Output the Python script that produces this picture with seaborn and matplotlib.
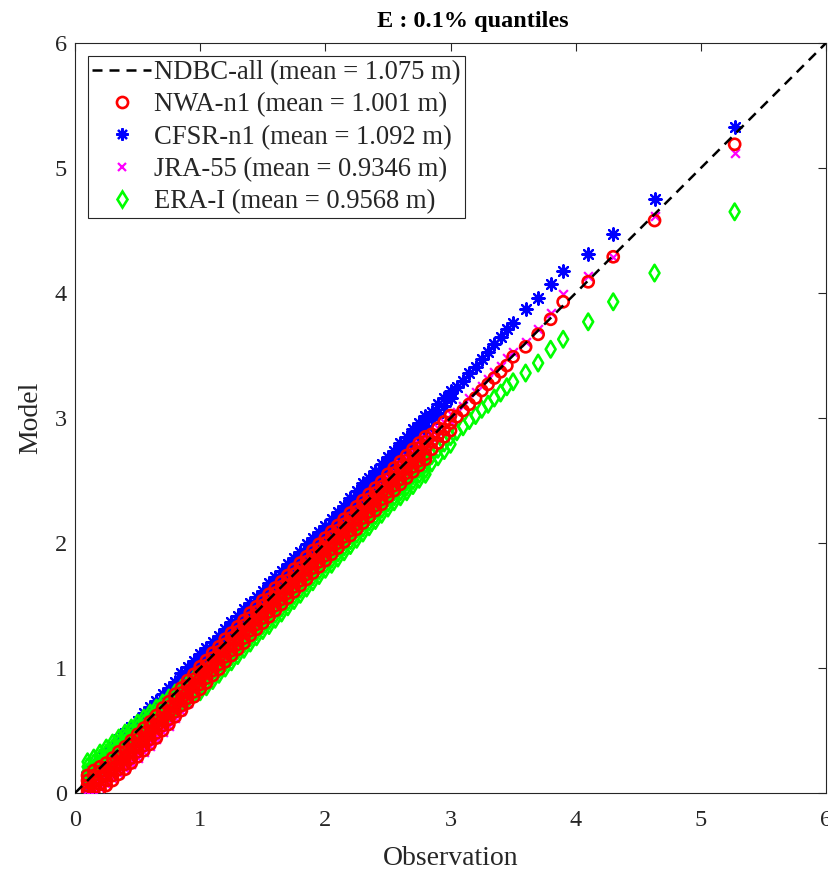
import numpy as np
import pandas as pd
import seaborn as sns
import matplotlib
matplotlib.use("Agg")
import matplotlib.pyplot as plt
from matplotlib.lines import Line2D

# ---------------- data ----------------
# observed quantile values; buoy data are reported on a coarse grid, so
# several 0.1% quantiles share one observed value (vertical runs of marks)
obs_levels = [0.10, 0.15, 0.20, 0.25, 0.30, 0.35, 0.40, 0.45, 0.50, 0.55,
              0.60, 0.65, 0.70, 0.75, 0.80, 0.85, 0.90, 0.95, 1.00, 1.05,
              1.10, 1.15, 1.20, 1.25, 1.30, 1.35, 1.40, 1.45, 1.50, 1.55,
              1.60, 1.65, 1.70, 1.75, 1.80, 1.85, 1.90, 1.95, 2.00, 2.05,
              2.10, 2.15, 2.20, 2.25, 2.30, 2.35, 2.40, 2.45, 2.50, 2.55,
              2.60, 2.65, 2.70, 2.75, 2.80,
              2.85, 2.90, 2.95, 3.00,
              3.05, 3.10, 3.15, 3.20, 3.25, 3.30, 3.35, 3.40, 3.45,
              3.50, 3.60, 3.70, 3.80, 3.90, 4.10, 4.30, 4.63, 5.27]
# number of plotted model quantiles per observed level
counts_nwa = [5, 5, 5, 5, 5, 5, 5, 5, 5, 5,
              5, 5, 5, 5, 5, 5, 5, 5, 5, 5,
              5, 5, 5, 5, 5, 5, 5, 5, 5, 5,
              5, 5, 5, 5, 5, 5, 5, 5, 5, 5,
              5, 5, 5, 5, 5, 5, 5, 5, 5, 5,
              5, 5, 5, 5, 5,
              3, 3, 3, 3,
              1, 1, 1, 1, 1, 1, 1, 1, 1,
              1, 1, 1, 1, 1, 1, 1, 1, 1]
counts_other = [4, 4, 4, 4, 4, 4, 4, 4, 4, 4,
                4, 4, 4, 4, 4, 4, 4, 4, 4, 4,
                4, 4, 4, 4, 4, 4, 4, 4, 4, 4,
                4, 4, 4, 4, 4, 4, 4, 4, 4, 4,
                4, 4, 4, 4, 4, 4, 4, 4, 4, 4,
                4, 4, 4, 4, 4,
                2, 2, 2, 2,
                1, 1, 1, 1, 1, 1, 1, 1, 1,
                1, 1, 1, 1, 1, 1, 1, 1, 1]

nwa = [0.00, 0.03, 0.06, 0.10, 0.14, 0.00, 0.04, 0.09, 0.14, 0.18, 0.03, 0.07, 0.12, 0.17, 0.21,
       0.06, 0.10, 0.15, 0.20, 0.24, 0.10, 0.14, 0.19, 0.24, 0.28, 0.15, 0.19, 0.24, 0.29, 0.33,
       0.19, 0.23, 0.28, 0.33, 0.37, 0.24, 0.28, 0.33, 0.38, 0.42, 0.29, 0.33, 0.38, 0.43, 0.47,
       0.34, 0.38, 0.43, 0.48, 0.52, 0.39, 0.43, 0.48, 0.53, 0.57, 0.44, 0.48, 0.53, 0.58, 0.62,
       0.50, 0.54, 0.59, 0.64, 0.68, 0.55, 0.59, 0.64, 0.69, 0.73, 0.61, 0.65, 0.70, 0.75, 0.79,
       0.66, 0.70, 0.75, 0.80, 0.84, 0.72, 0.76, 0.81, 0.86, 0.90, 0.77, 0.81, 0.86, 0.91, 0.95,
       0.83, 0.87, 0.92, 0.97, 1.01, 0.88, 0.92, 0.97, 1.02, 1.06, 0.94, 0.98, 1.03, 1.08, 1.12,
       0.99, 1.03, 1.08, 1.13, 1.17, 1.05, 1.09, 1.14, 1.19, 1.23, 1.10, 1.14, 1.19, 1.24, 1.28,
       1.15, 1.19, 1.24, 1.29, 1.33, 1.20, 1.24, 1.29, 1.34, 1.38, 1.26, 1.30, 1.35, 1.40, 1.44,
       1.31, 1.35, 1.40, 1.45, 1.49, 1.36, 1.40, 1.45, 1.50, 1.54, 1.41, 1.45, 1.50, 1.55, 1.59,
       1.46, 1.50, 1.55, 1.60, 1.64, 1.51, 1.55, 1.60, 1.65, 1.69, 1.56, 1.60, 1.65, 1.70, 1.74,
       1.61, 1.65, 1.70, 1.75, 1.79, 1.66, 1.70, 1.75, 1.80, 1.84, 1.71, 1.75, 1.80, 1.85, 1.89,
       1.76, 1.80, 1.85, 1.90, 1.94, 1.81, 1.85, 1.90, 1.95, 1.99, 1.86, 1.90, 1.95, 2.00, 2.04,
       1.91, 1.95, 2.00, 2.05, 2.09, 1.96, 2.00, 2.05, 2.10, 2.14, 2.01, 2.05, 2.10, 2.15, 2.19,
       2.06, 2.10, 2.15, 2.20, 2.24, 2.11, 2.15, 2.20, 2.25, 2.29, 2.16, 2.20, 2.25, 2.30, 2.34,
       2.21, 2.25, 2.30, 2.35, 2.39, 2.26, 2.30, 2.35, 2.40, 2.44, 2.31, 2.35, 2.40, 2.45, 2.49,
       2.37, 2.41, 2.46, 2.51, 2.55, 2.42, 2.46, 2.51, 2.56, 2.60, 2.47, 2.51, 2.56, 2.61, 2.65,
       2.52, 2.56, 2.61, 2.66, 2.70, 2.57, 2.61, 2.66, 2.71, 2.75, 2.62, 2.66, 2.71, 2.76, 2.80,
       2.67, 2.71, 2.76, 2.81, 2.85,
       2.75, 2.81, 2.87, 2.80, 2.86, 2.92, 2.85, 2.91, 2.97, 2.90, 2.96, 3.02,
       3.01, 3.06, 3.11, 3.16, 3.22, 3.27, 3.32, 3.37, 3.42,
       3.49, 3.57, 3.67, 3.79, 3.93, 4.09, 4.29, 4.58, 5.19]

cfsr = [0.05, 0.09, 0.13, 0.17, 0.10, 0.14, 0.18, 0.22, 0.15, 0.19, 0.23, 0.27, 0.20, 0.24, 0.28, 0.32, 0.25, 0.29, 0.33, 0.37,
        0.31, 0.35, 0.39, 0.43, 0.36, 0.40, 0.44, 0.48, 0.41, 0.45, 0.49, 0.53, 0.46, 0.50, 0.54, 0.58, 0.52, 0.56, 0.60, 0.64,
        0.57, 0.61, 0.65, 0.69, 0.62, 0.66, 0.70, 0.74, 0.67, 0.71, 0.75, 0.79, 0.72, 0.76, 0.80, 0.84, 0.77, 0.81, 0.85, 0.89,
        0.84, 0.88, 0.92, 0.96, 0.89, 0.93, 0.97, 1.01, 0.94, 0.98, 1.02, 1.06, 0.99, 1.03, 1.07, 1.11, 1.04, 1.08, 1.12, 1.16,
        1.09, 1.13, 1.17, 1.21, 1.14, 1.18, 1.22, 1.26, 1.19, 1.23, 1.27, 1.31, 1.25, 1.29, 1.33, 1.37, 1.30, 1.34, 1.38, 1.42,
        1.35, 1.39, 1.43, 1.47, 1.40, 1.44, 1.48, 1.52, 1.45, 1.49, 1.53, 1.57, 1.50, 1.54, 1.58, 1.62, 1.56, 1.60, 1.64, 1.68,
        1.61, 1.65, 1.69, 1.73, 1.66, 1.70, 1.74, 1.78, 1.71, 1.75, 1.79, 1.83, 1.76, 1.80, 1.84, 1.88, 1.81, 1.85, 1.89, 1.93,
        1.87, 1.91, 1.95, 1.99, 1.92, 1.96, 2.00, 2.04, 1.97, 2.01, 2.05, 2.09, 2.02, 2.06, 2.10, 2.14, 2.07, 2.11, 2.15, 2.19,
        2.13, 2.17, 2.21, 2.25, 2.18, 2.22, 2.26, 2.30, 2.24, 2.28, 2.32, 2.36, 2.30, 2.34, 2.38, 2.42, 2.36, 2.40, 2.44, 2.48,
        2.40, 2.44, 2.48, 2.52, 2.46, 2.50, 2.54, 2.58, 2.51, 2.55, 2.59, 2.63, 2.57, 2.61, 2.65, 2.69, 2.62, 2.66, 2.70, 2.74,
        2.68, 2.72, 2.76, 2.80, 2.73, 2.77, 2.81, 2.85, 2.79, 2.83, 2.87, 2.91, 2.84, 2.88, 2.92, 2.96, 2.90, 2.94, 2.98, 3.02,
        2.99, 3.05, 3.04, 3.11, 3.10, 3.16, 3.16, 3.22,
        3.25, 3.30, 3.36, 3.41, 3.47, 3.53, 3.59, 3.65, 3.71,
        3.76, 3.87, 3.96, 4.07, 4.18, 4.31, 4.47, 4.75, 5.33]

jra = [0.00, 0.03, 0.07, 0.10, 0.02, 0.05, 0.09, 0.12, 0.04, 0.07, 0.11, 0.14, 0.07, 0.10, 0.14, 0.17, 0.11, 0.14, 0.18, 0.21,
       0.15, 0.18, 0.22, 0.25, 0.19, 0.22, 0.26, 0.29, 0.23, 0.26, 0.30, 0.33, 0.28, 0.31, 0.35, 0.38, 0.33, 0.36, 0.40, 0.43,
       0.38, 0.41, 0.45, 0.48, 0.43, 0.46, 0.50, 0.53, 0.49, 0.52, 0.56, 0.59, 0.54, 0.57, 0.61, 0.64, 0.60, 0.63, 0.67, 0.70,
       0.66, 0.69, 0.73, 0.76, 0.72, 0.75, 0.79, 0.82, 0.78, 0.81, 0.85, 0.88, 0.84, 0.87, 0.91, 0.94, 0.90, 0.93, 0.97, 1.00,
       0.96, 0.99, 1.03, 1.06, 1.01, 1.04, 1.08, 1.11, 1.07, 1.10, 1.14, 1.17, 1.12, 1.15, 1.19, 1.22, 1.18, 1.21, 1.25, 1.28,
       1.23, 1.26, 1.30, 1.33, 1.29, 1.32, 1.36, 1.39, 1.34, 1.37, 1.41, 1.44, 1.40, 1.43, 1.47, 1.50, 1.45, 1.48, 1.52, 1.55,
       1.50, 1.53, 1.57, 1.60, 1.55, 1.58, 1.62, 1.65, 1.60, 1.63, 1.67, 1.70, 1.65, 1.68, 1.72, 1.75, 1.70, 1.73, 1.77, 1.80,
       1.75, 1.78, 1.82, 1.85, 1.80, 1.83, 1.87, 1.90, 1.85, 1.88, 1.92, 1.95, 1.90, 1.93, 1.97, 2.00, 1.95, 1.98, 2.02, 2.05,
       2.00, 2.03, 2.07, 2.10, 2.05, 2.08, 2.12, 2.15, 2.10, 2.13, 2.17, 2.20, 2.15, 2.18, 2.22, 2.25, 2.20, 2.23, 2.27, 2.30,
       2.25, 2.28, 2.32, 2.35, 2.30, 2.33, 2.37, 2.40, 2.36, 2.39, 2.43, 2.46, 2.42, 2.45, 2.49, 2.52, 2.47, 2.50, 2.54, 2.57,
       2.53, 2.56, 2.60, 2.63, 2.58, 2.61, 2.65, 2.68, 2.63, 2.66, 2.70, 2.73, 2.69, 2.72, 2.76, 2.79, 2.74, 2.77, 2.81, 2.84,
       2.81, 2.87, 2.86, 2.92, 2.91, 2.97, 2.97, 3.03,
       3.05, 3.10, 3.16, 3.21, 3.26, 3.31, 3.37, 3.42, 3.48,
       3.53, 3.61, 3.71, 3.84, 3.99, 4.14, 4.29, 4.62, 5.12]

era = [0.13, 0.17, 0.21, 0.25, 0.16, 0.20, 0.24, 0.28, 0.20, 0.24, 0.28, 0.32, 0.24, 0.28, 0.32, 0.36, 0.28, 0.32, 0.36, 0.40,
       0.32, 0.36, 0.40, 0.44, 0.36, 0.40, 0.44, 0.48, 0.40, 0.44, 0.48, 0.52, 0.44, 0.48, 0.52, 0.56, 0.48, 0.52, 0.56, 0.60,
       0.52, 0.56, 0.60, 0.64, 0.56, 0.60, 0.64, 0.68, 0.60, 0.64, 0.68, 0.72, 0.64, 0.68, 0.72, 0.76, 0.68, 0.72, 0.76, 0.80,
       0.72, 0.76, 0.80, 0.84, 0.75, 0.79, 0.83, 0.87, 0.79, 0.83, 0.87, 0.91, 0.81, 0.85, 0.89, 0.93, 0.85, 0.89, 0.93, 0.97,
       0.90, 0.94, 0.98, 1.02, 0.95, 0.99, 1.03, 1.07, 1.00, 1.04, 1.08, 1.12, 1.05, 1.09, 1.13, 1.17, 1.10, 1.14, 1.18, 1.22,
       1.15, 1.19, 1.23, 1.27, 1.20, 1.24, 1.28, 1.32, 1.25, 1.29, 1.33, 1.37, 1.30, 1.34, 1.38, 1.42, 1.34, 1.38, 1.42, 1.46,
       1.39, 1.43, 1.47, 1.51, 1.44, 1.48, 1.52, 1.56, 1.49, 1.53, 1.57, 1.61, 1.54, 1.58, 1.62, 1.66, 1.59, 1.63, 1.67, 1.71,
       1.64, 1.68, 1.72, 1.76, 1.69, 1.73, 1.77, 1.81, 1.74, 1.78, 1.82, 1.86, 1.79, 1.83, 1.87, 1.91, 1.83, 1.87, 1.91, 1.95,
       1.88, 1.92, 1.96, 2.00, 1.93, 1.97, 2.01, 2.05, 1.98, 2.02, 2.06, 2.10, 2.03, 2.07, 2.11, 2.15, 2.08, 2.12, 2.16, 2.20,
       2.13, 2.17, 2.21, 2.25, 2.18, 2.22, 2.26, 2.30, 2.23, 2.27, 2.31, 2.35, 2.28, 2.32, 2.36, 2.40, 2.33, 2.37, 2.41, 2.45,
       2.37, 2.41, 2.45, 2.49, 2.41, 2.45, 2.49, 2.53, 2.46, 2.50, 2.54, 2.58, 2.51, 2.55, 2.59, 2.63, 2.55, 2.59, 2.63, 2.67,
       2.64, 2.70, 2.69, 2.75, 2.74, 2.80, 2.79, 2.85,
       2.89, 2.93, 2.98, 3.02, 3.07, 3.11, 3.16, 3.20, 3.25,
       3.29, 3.36, 3.44, 3.55, 3.63, 3.77, 3.93, 4.16, 4.65]

labels = ["NDBC-all (mean = 1.075 m)",
          "NWA-n1 (mean = 1.001 m)",
          "CFSR-n1 (mean = 1.092 m)",
          "JRA-55 (mean = 0.9346 m)",
          "ERA-I (mean = 0.9568 m)"]
ticks = [0, 1, 2, 3, 4, 5, 6]

# ---------------- figure ----------------
sns.set_theme(style="white")
plt.rcParams["font.family"] = ["Liberation Serif", "DejaVu Serif"]

df_nwa = pd.DataFrame({"obs": np.repeat(obs_levels, counts_nwa), "model": nwa})
obs_o = np.repeat(obs_levels, counts_other)
df_cfsr = pd.DataFrame({"obs": obs_o, "model": cfsr})
df_jra = pd.DataFrame({"obs": obs_o, "model": jra})
df_era = pd.DataFrame({"obs": obs_o, "model": era})

fig = plt.figure(figsize=(8.29, 8.73), dpi=100)
ax = fig.add_axes([0.0905, 0.0916, 0.9059, 0.8591])

asterisk = (8, 2, 0)
sns.scatterplot(data=df_cfsr, x="obs", y="model", marker=asterisk, s=80, color=(0, 0, 1),
                linewidth=1.6, ax=ax, zorder=2, legend=False)
sns.scatterplot(data=df_jra, x="obs", y="model", marker="x", s=40, color=(1, 0, 1),
                linewidth=1.6, ax=ax, zorder=3, legend=False)
sns.scatterplot(data=df_era, x="obs", y="model", marker="d", s=70, facecolor="none",
                edgecolor=(0, 1, 0), linewidth=1.9, ax=ax, zorder=4, legend=False)
sns.scatterplot(data=df_nwa, x="obs", y="model", marker="o", s=64, facecolor="none",
                edgecolor=(1, 0, 0), linewidth=1.9, ax=ax, zorder=5, legend=False)
ax.axline((0, 0), slope=1, color="black", linestyle=(0, (4, 2.8)), linewidth=1.8, zorder=6)

ax.set_xlim(0, 6)
ax.set_ylim(0, 6)
ax.set_xticks(ticks)
ax.set_yticks(ticks)
ax.set_xticklabels([str(t) for t in ticks])
ax.set_yticklabels([str(t) for t in ticks])
ax.tick_params(direction="in", length=6, width=0.8, top=True, right=True,
               labelsize=17.5, colors="#262626")
ax.tick_params(axis="x", pad=12)
ax.tick_params(axis="y", pad=6)
for sp in ax.spines.values():
    sp.set_color("#262626")
    sp.set_linewidth(0.8)
    sp.set_visible(True)
ax.set_xlabel("Observation", fontsize=20, color="#262626", labelpad=11)
ax.set_ylabel("Model", fontsize=20, color="#262626", labelpad=8)
fig.text(473 / 829, 1 - 22 / 873, "E : 0.1% quantiles", fontsize=17.5,
         fontweight="bold", ha="center", va="center", color="black")

handles = [
    Line2D([], [], color="black", linestyle=(0, (4, 2.8)), linewidth=1.8),
    Line2D([], [], linestyle="none", marker="o", markersize=8, markerfacecolor="none",
           markeredgecolor=(1, 0, 0), markeredgewidth=1.9),
    Line2D([], [], linestyle="none", marker=asterisk, markersize=8.9, color=(0, 0, 1),
           markeredgewidth=1.6),
    Line2D([], [], linestyle="none", marker="x", markersize=6.3, color=(1, 0, 1),
           markeredgewidth=1.6),
    Line2D([], [], linestyle="none", marker="d", markersize=8.3, markerfacecolor="none",
           markeredgecolor=(0, 1, 0), markeredgewidth=1.9),
]
leg = ax.legend(handles, labels, loc="upper left", fontsize=19.2, frameon=True,
                fancybox=False, framealpha=1, edgecolor="#262626",
                borderaxespad=0.5, handlelength=2.2, handletextpad=0.12,
                labelspacing=0.27, borderpad=0.15)
leg.get_frame().set_linewidth(0.8)

fig.savefig("out.png", dpi=100)
